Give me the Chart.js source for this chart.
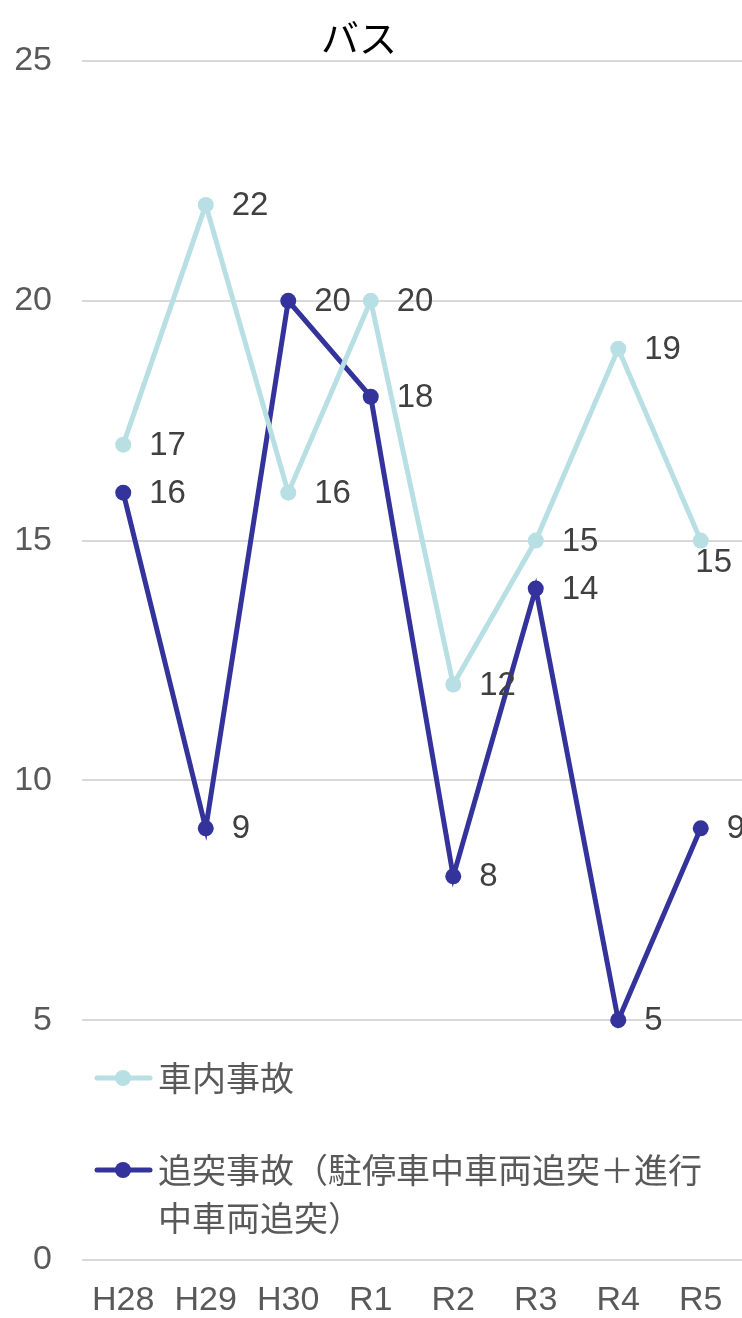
<!DOCTYPE html>
<html>
<head>
<meta charset="utf-8">
<script src="https://cdn.jsdelivr.net/npm/chart.js@4"></script>
<style>
  html, body { margin: 0; padding: 0; background: #fff; overflow: hidden; }
  #wrap { width: 742px; height: 1318px; position: relative; }
  canvas { display: block; }
</style>
</head>
<body>
<div id="wrap"><canvas id="chart"></canvas></div>
<script>
const years = ['H28', 'H29', 'H30', 'R1', 'R2', 'R3', 'R4', 'R5'];
const inBus = [17, 22, 16, 20, 12, 15, 19, 15];
const rearEnd = [16, 9, 20, 18, 8, 14, 5, 9];
const seriesNames = ['車内事故', '追突事故（駐停車中車両追突＋進行中車両追突）'];
const yTicks = [0, 5, 10, 15, 20, 25];

const FONT = '"Liberation Sans", Arial, "Noto Sans CJK JP", sans-serif';

// labels to the right of each point, moved below when they don't fit
const pointLabels = {
    id: 'pointLabels',
    afterDatasetsDraw(chart) {
        const ctx = chart.ctx;
        ctx.save();
        ctx.font = '33px ' + FONT;
        ctx.fillStyle = '#404040';
        ctx.textBaseline = 'middle';
        chart.data.datasets.forEach((ds, i) => {
            chart.getDatasetMeta(i).data.forEach((pt, j) => {
                const txt = String(ds.data[j]);
                const w = ctx.measureText(txt).width;
                if (pt.x + 26 + w > chart.width + 5) {
                    ctx.textAlign = 'center';
                    ctx.fillText(txt, chart.width - 10 - w / 2, pt.y + 22);
                } else {
                    ctx.textAlign = 'left';
                    ctx.fillText(txt, pt.x + 26, pt.y + 1);
                }
            });
        });
        ctx.restore();
    }
};

// title + legend sitting inside the plot area
const overlay = {
    id: 'overlay',
    afterDraw(chart) {
        const ctx = chart.ctx;
        ctx.save();
        ctx.font = '38px "Noto Sans CJK JP", sans-serif';
        ctx.fillStyle = '#000';
        ctx.textAlign = 'center';
        ctx.textBaseline = 'middle';
        ctx.fillText('バス', 359, 38);

        ctx.font = '34px "Noto Sans CJK JP", sans-serif';
        ctx.textAlign = 'left';
        const rows = [1078, 1170];
        chart.data.datasets.forEach((ds, i) => {
            const y = rows[i];
            ctx.strokeStyle = ds.borderColor;
            ctx.lineWidth = 5;
            ctx.lineCap = 'round';
            ctx.beginPath();
            ctx.moveTo(97, y);
            ctx.lineTo(150, y);
            ctx.stroke();
            ctx.fillStyle = ds.borderColor;
            ctx.beginPath();
            ctx.arc(123, y, 8, 0, Math.PI * 2);
            ctx.fill();
            ctx.fillStyle = '#595959';
            // wrap by characters
            let line = '', ly = y;
            for (const ch of ds.label) {
                if (ctx.measureText(line + ch).width > 560) {
                    ctx.fillText(line, 158, ly);
                    line = ch;
                    ly += 48;
                } else {
                    line += ch;
                }
            }
            ctx.fillText(line, 158, ly);
        });
        ctx.restore();
    }
};

new Chart(document.getElementById('chart'), {
    type: 'line',
    data: {
        labels: years,
        datasets: [
            {
                label: seriesNames[0],
                data: inBus,
                borderColor: '#b8e0e4',
                backgroundColor: '#b8e0e4',
                borderWidth: 5,
                pointRadius: 8,
                pointBorderWidth: 0,
                tension: 0
            },
            {
                label: seriesNames[1],
                data: rearEnd,
                borderColor: '#33339b',
                backgroundColor: '#33339b',
                borderWidth: 5,
                pointRadius: 8,
                pointBorderWidth: 0,
                tension: 0
            }
        ]
    },
    options: {
        responsive: true,
        maintainAspectRatio: false,
        animation: false,
        layout: { autoPadding: false, padding: { top: 61, right: 0, bottom: 0, left: 0 } },
        plugins: {
            legend: { display: false },
            title: { display: false },
            tooltip: { enabled: false }
        },
        scales: {
            x: {
                offset: true,
                grid: { display: false, drawTicks: false },
                border: { display: false },
                ticks: {
                    color: '#595959',
                    font: { size: 34, family: FONT },
                    padding: 20,
                    maxRotation: 0,
                    autoSkip: false
                },
                afterFit(scale) {
                    scale.height = 58;
                    scale.paddingLeft = 0;
                    scale.paddingRight = 0;
                }
            },
            y: {
                min: 0,
                max: 25,
                afterBuildTicks(scale) { scale.ticks = yTicks.map(v => ({ value: v })); },
                grid: { color: '#d9d9d9', lineWidth: 2, drawTicks: false },
                border: { display: false },
                ticks: {
                    color: '#595959',
                    font: { size: 34, family: FONT },
                    padding: 30
                },
                afterFit(scale) {
                    scale.width = 82;
                    scale.paddingTop = 0;
                    scale.paddingBottom = 0;
                }
            }
        }
    },
    plugins: [pointLabels, overlay]
});
</script>
</body>
</html>
